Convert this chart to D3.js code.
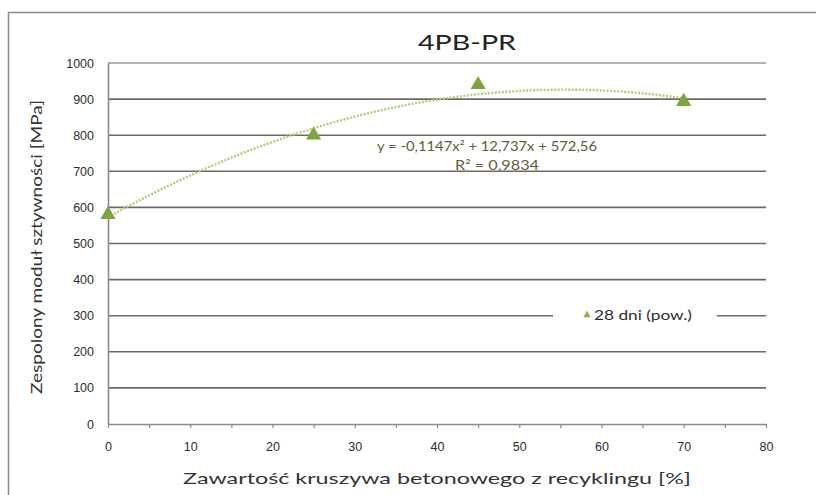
<!DOCTYPE html>
<html>
<head>
<meta charset="utf-8">
<script src="https://cdn.jsdelivr.net/npm/d3@7"></script>
<style>
  html, body { margin: 0; padding: 0; background: #fff; }
  svg { display: block; font-family: Lato, "Open Sans", sans-serif; }
</style>
</head>
<body>
<svg id="chart" width="816" height="495"></svg>
<script>
// Measured stiffness modulus vs. recycled concrete aggregate content
const contentPct = [0, 25, 45, 70];
const modulusMPa = [580, 800, 940, 893];
const seriesName = "28 dni (pow.)";

// Polynomial trendline (order 2) as reported
const trendCoef = [-0.1147, 12.737, 572.56];
const trendText = ["y = -0,1147x\u00b2 + 12,737x + 572,56", "R\u00b2 = 0,9834"];

const xTicks = [0, 10, 20, 30, 40, 50, 60, 70, 80];
const xMinorTicks = d3.range(0, 81, 5);
const yTicks = [0, 100, 200, 300, 400, 500, 600, 700, 800, 900, 1000];

const titleText = "4PB-PR";
const xTitle = "Zawartość kruszywa betonowego z recyklingu [%]";
const yTitle = "Zespolony moduł sztywności [MPa]";

const svg = d3.select("#chart");
const plot = { left: 108, right: 766, top: 63, bottom: 424 };

const x = d3.scaleLinear().domain([0, 80]).range([plot.left, plot.right]);
const y = d3.scaleLinear().domain([0, 1000]).range([plot.bottom, plot.top]);

// Chart frame
svg.append("rect")
  .attr("x", 8.5).attr("y", 12.5)
  .attr("width", 820).attr("height", 500)
  .attr("fill", "#fff")
  .attr("stroke", "#8c8c8c").attr("stroke-width", 1.5);

// Horizontal gridlines
svg.append("g")
  .selectAll("line")
  .data(yTicks.filter(d => d > 0))
  .join("line")
  .attr("x1", plot.left).attr("x2", plot.right)
  .attr("y1", d => y(d)).attr("y2", d => y(d))
  .attr("stroke", d => d === 1000 ? "#999" : "#726767")
  .attr("stroke-width", 1.6);

// Y axis
const yAxis = svg.append("g")
  .attr("transform", `translate(${plot.left},0)`)
  .call(d3.axisLeft(y).tickValues(yTicks).tickSize(0).tickPadding(14).tickFormat(d3.format("d")));
yAxis.select(".domain").attr("stroke", "#8a8a8a").attr("stroke-width", 1.6);
yAxis.selectAll("text").attr("font-size", 12.5).attr("fill", "#2e2e2e");

// X axis with minor ticks every 5 %
const xAxis = svg.append("g")
  .attr("transform", `translate(0,${plot.bottom})`)
  .call(d3.axisBottom(x).tickValues(xMinorTicks).tickSize(4).tickSizeOuter(0)
    .tickFormat(d => xTicks.includes(d) ? d : ""));
xAxis.select(".domain").attr("stroke", "#8a8a8a").attr("stroke-width", 1.6);
xAxis.selectAll(".tick line").attr("stroke", "#8a8a8a").attr("stroke-width", 1.2);
xAxis.selectAll("text").attr("font-size", 12.5).attr("fill", "#2e2e2e").attr("dy", "1.6em");

// Trendline from the reported polynomial
const trendFn = t => trendCoef[0] * t * t + trendCoef[1] * t + trendCoef[2];
const trendPts = d3.range(0, 70.01, 0.5).map(t => [t, trendFn(t)]);
svg.append("path")
  .datum(trendPts)
  .attr("fill", "none")
  .attr("stroke", "#b2cc7c")
  .attr("stroke-width", 2.4)
  .attr("stroke-dasharray", "2,1.5")
  .attr("d", d3.line().x(d => x(d[0])).y(d => y(d[1])));

// Data markers
const tri = d3.symbol().type(d3.symbolTriangle).size(100);
svg.append("g")
  .selectAll("path")
  .data(contentPct.map((c, i) => [c, modulusMPa[i]]))
  .join("path")
  .attr("d", tri)
  .attr("transform", d => `translate(${x(d[0])},${y(d[1])})`)
  .attr("fill", "#7ea53d");

// Trendline equation
svg.append("g")
  .selectAll("text")
  .data(trendText)
  .join("text")
  .attr("x", (d, i) => i === 0 ? 487 : 497)
  .attr("y", (d, i) => 151 + i * 19)
  .attr("text-anchor", "middle")
  .attr("font-size", 13.5)
  .attr("textLength", (d, i) => i === 0 ? 220 : 84)
  .attr("lengthAdjust", "spacingAndGlyphs")
  .attr("fill", "#5e5e3c")
  .text(d => d);

// Legend
const lg = svg.append("g");
lg.append("rect").attr("x", 553).attr("y", 305).attr("width", 164).attr("height", 22).attr("fill", "#fff");
lg.append("path").attr("d", d3.symbol().type(d3.symbolTriangle).size(24))
  .attr("transform", "translate(587,315)").attr("fill", "#8fb04e");
lg.append("text").attr("x", 594).attr("y", 320).attr("font-size", 13.5)
  .attr("textLength", 98).attr("lengthAdjust", "spacingAndGlyphs")
  .attr("fill", "#2e2e2e").text(seriesName);

// Titles
svg.append("text").attr("x", 467).attr("y", 50).attr("text-anchor", "middle")
  .attr("font-size", 21).attr("textLength", 98).attr("lengthAdjust", "spacingAndGlyphs")
  .attr("fill", "#222").text(titleText);
svg.append("text").attr("x", 437).attr("y", 484).attr("text-anchor", "middle")
  .attr("font-size", 16).attr("textLength", 508).attr("lengthAdjust", "spacingAndGlyphs")
  .attr("fill", "#333").text(xTitle);
svg.append("text").attr("transform", "translate(42,247) rotate(-90)").attr("text-anchor", "middle")
  .attr("font-size", 15.5).attr("textLength", 294).attr("lengthAdjust", "spacingAndGlyphs")
  .attr("fill", "#333").text(yTitle);
</script>
</body>
</html>
